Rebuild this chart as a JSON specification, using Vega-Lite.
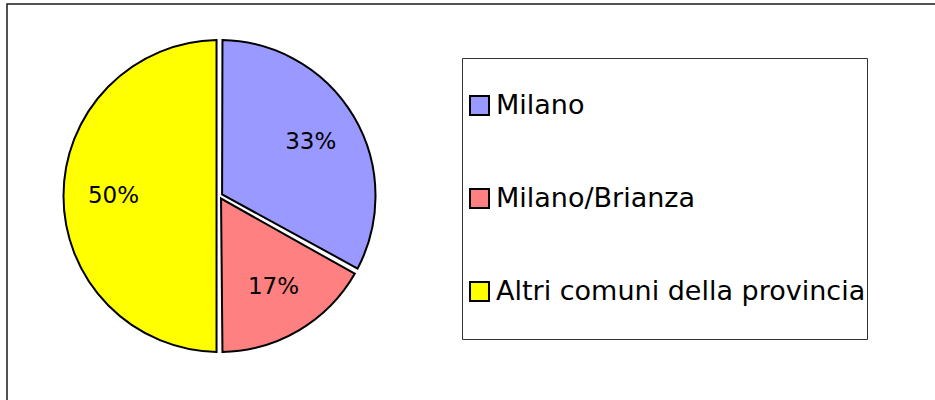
{
  "$schema": "https://vega.github.io/schema/vega-lite/v6.json",
  "width": 934,
  "height": 402,
  "autosize": {"type": "none"},
  "padding": {"left": 7, "top": 4, "right": -6, "bottom": -6},
  "background": "white",
  "view": {"stroke": "#1a1a1a", "strokeWidth": 1.5},
  "config": {
    "view": {"stroke": "#1a1a1a", "strokeWidth": 1.5},
    "font": "DejaVu Sans"
  },
  "data": {
    "values": [
      {"zona": "Milano", "quota": 33, "label": "33%", "ord": 1},
      {"zona": "Milano/Brianza", "quota": 17, "label": "17%", "ord": 2},
      {"zona": "Altri comuni della provincia", "quota": 50, "label": "50%", "ord": 3}
    ]
  },
  "encoding": {
    "theta": {"field": "quota", "type": "quantitative", "stack": true},
    "order": {"field": "ord", "type": "quantitative"}
  },
  "layer": [
    {
      "mark": {"type": "arc", "x": 212.5, "y": 192, "innerRadius": 3, "outerRadius": 156, "padAngle": 0.038, "stroke": "black", "strokeWidth": 2},
      "encoding": {
        "color": {
          "field": "zona",
          "type": "nominal",
          "sort": ["Milano", "Milano/Brianza", "Altri comuni della provincia"],
          "scale": {
            "domain": ["Milano", "Milano/Brianza", "Altri comuni della provincia"],
            "range": ["#9999ff", "#ff8080", "#ffff00"]
          },
          "legend": {
            "orient": "none",
            "legendX": 455,
            "legendY": 54,
            "title": null,
            "symbolType": "square",
            "symbolSize": 360,
            "symbolStrokeColor": "black",
            "symbolStrokeWidth": 2,
            "symbolOffset": 3,
            "labelFontSize": 27,
            "labelFont": "DejaVu Sans",
            "labelColor": "black",
            "labelOffset": 3,
            "labelLimit": 0,
            "clipHeight": 93,
            "rowPadding": 0,
            "padding": 1,
            "strokeColor": "#333333",
            "fillColor": "white"
          }
        }
      }
    },
    {
      "mark": {"type": "text", "x": 212.5, "y": 192, "radius": 106, "fontSize": 23, "font": "DejaVu Sans", "fill": "black"},
      "encoding": {
        "text": {"field": "label", "type": "nominal"}
      }
    }
  ]
}
